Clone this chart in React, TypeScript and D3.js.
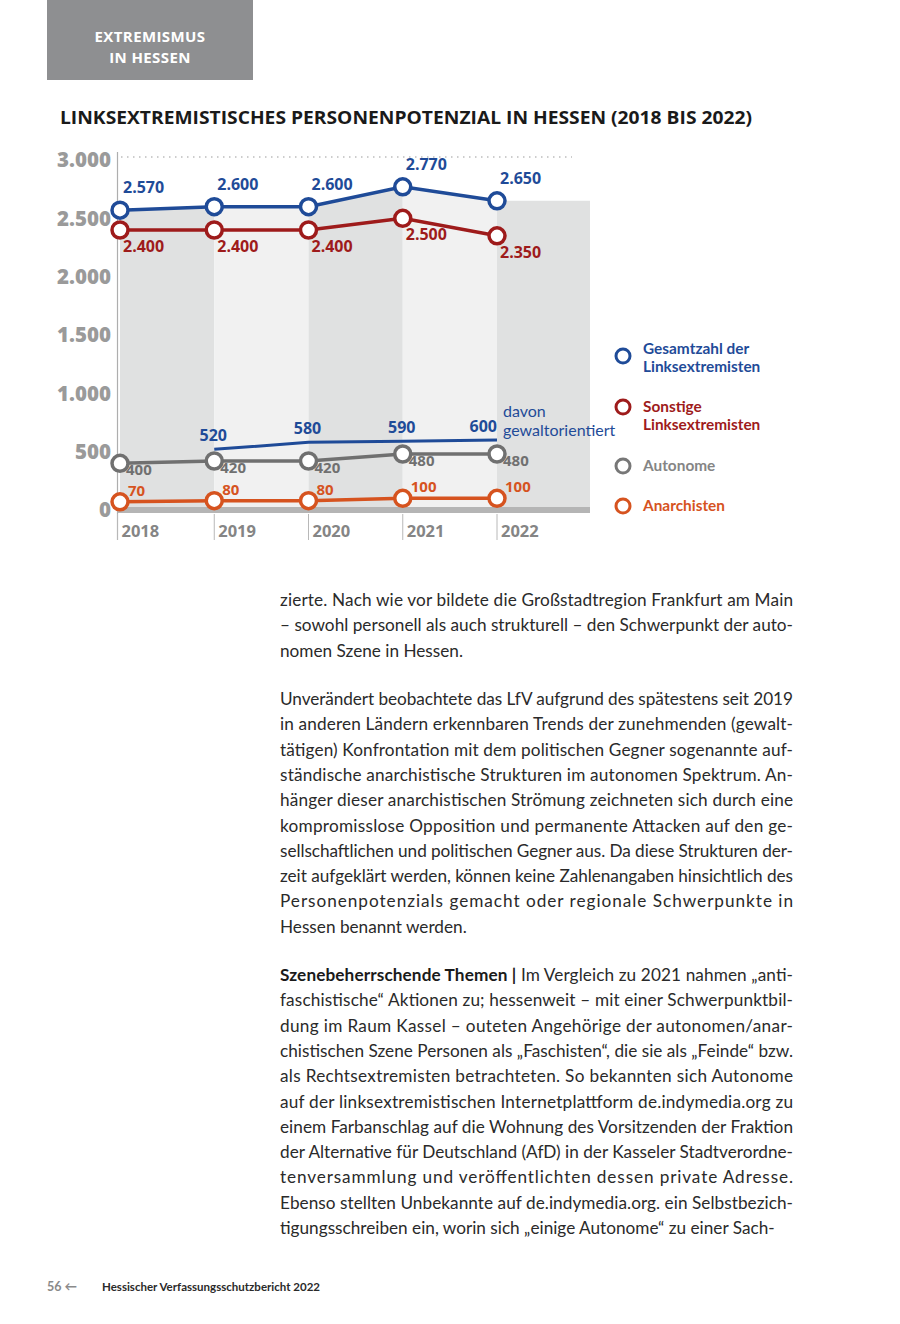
import * as d3 from "d3";

const W = 900;
const H = 1324;

const years = ["2018", "2019", "2020", "2021", "2022"];
const gesamt = [2570, 2600, 2600, 2770, 2650];
const sonstige = [2400, 2400, 2400, 2500, 2350];
const autonome = [400, 420, 420, 480, 480];
const anarchisten = [70, 80, 80, 100, 100];
const gewaltYears = ["2019", "2020", "2021", "2022"];
const gewalt = [520, 580, 590, 600];
const yTicks = [0, 500, 1000, 1500, 2000, 2500, 3000];

const legendItems = [
  { lines: ["Gesamtzahl der", "Linksextremisten"], color: "#1f4b98", text: "#1f4b98" },
  { lines: ["Sonstige", "Linksextremisten"], color: "#9e1b1b", text: "#9e1b1b" },
  { lines: ["Autonome"], color: "#777777", text: "#858585" },
  { lines: ["Anarchisten"], color: "#d6531f", text: "#d6531f" },
];

const para1 = [
  "zierte. Nach wie vor bildete die Großstadtregion Frankfurt am Main",
  "– sowohl personell als auch strukturell – den Schwerpunkt der auto-",
  "nomen Szene in Hessen.",
];
const para2 = [
  "Unverändert beobachtete das LfV aufgrund des spätestens seit 2019",
  "in anderen Ländern erkennbaren Trends der zunehmenden (gewalt-",
  "tätigen) Konfrontation mit dem politischen Gegner sogenannte auf-",
  "ständische anarchistische Strukturen im autonomen Spektrum. An-",
  "hänger dieser anarchistischen Strömung zeichneten sich durch eine",
  "kompromisslose Opposition und permanente Attacken auf den ge-",
  "sellschaftlichen und politischen Gegner aus. Da diese Strukturen der-",
  "zeit aufgeklärt werden, können keine Zahlenangaben hinsichtlich des",
  "Personenpotenzials gemacht oder regionale Schwerpunkte in",
  "Hessen benannt werden.",
];
const para3Lead = "Szenebeherrschende Themen |";
const para3 = [
  " Im Vergleich zu 2021 nahmen „anti-",
  "faschistische“ Aktionen zu; hessenweit – mit einer Schwerpunktbil-",
  "dung im Raum Kassel – outeten Angehörige der autonomen/anar-",
  "chistischen Szene Personen als „Faschisten“, die sie als „Feinde“ bzw.",
  "als Rechtsextremisten betrachteten. So bekannten sich Autonome",
  "auf der linksextremistischen Internetplattform de.indymedia.org zu",
  "einem Farbanschlag auf die Wohnung des Vorsitzenden der Fraktion",
  "der Alternative für Deutschland (AfD) in der Kasseler Stadtverordne-",
  "tenversammlung und veröffentlichten dessen private Adresse.",
  "Ebenso stellten Unbekannte auf de.indymedia.org. ein Selbstbezich-",
  "tigungsschreiben ein, worin sich „einige Autonome“ zu einer Sach-",
];

const fmt = (v: number) => d3.format(",")(v).replace(/,/g, ".");

const x = d3.scalePoint<string>().domain(years).range([120, 497]);
const y = d3.scaleLinear().domain([0, 3000]).range([510, 160]);
const plotRight = 590;

const BOLD = "'Open Sans', 'DejaVu Sans', sans-serif";
const BODY = "Lato, 'Open Sans', sans-serif";

const line = d3
  .line<number>()
  .x((_, i) => x(years[i]) as number)
  .y((d) => y(d));

const gewaltLine = d3
  .line<number>()
  .x((_, i) => x(gewaltYears[i]) as number)
  .y((d) => y(d));

// area under the total line, extended flat to the right edge
const areaPts: [number, number][] = gesamt.map((v, i) => [x(years[i]) as number, y(v)]);
areaPts.push([plotRight, y(gesamt[gesamt.length - 1])]);
const area = d3
  .area<[number, number]>()
  .x((d) => d[0])
  .y0(y(0))
  .y1((d) => d[1]);

type Series = {
  values: number[];
  color: string;
  dx: number;
  dy: number;
  size: number;
};

const series: Series[] = [
  { values: gesamt, color: "#1f4b98", dx: 3, dy: -17, size: 16 },
  { values: sonstige, color: "#9e1b1b", dx: 3, dy: 22, size: 16 },
  { values: autonome, color: "#707070", dx: 6, dy: 12, size: 15 },
  { values: anarchisten, color: "#d6531f", dx: 8, dy: -6, size: 15 },
];

const justify = 513;

function Para({ lines, top, lead }: { lines: string[]; top: number; lead?: string }) {
  return (
    <g fontFamily={BODY} fontSize={17.2} fill="#2a2a2a">
      {lines.map((t, i) => {
        const last = i === lines.length - 1;
        const props = last ? {} : { textLength: justify, lengthAdjust: "spacing" as const };
        return (
          <text key={i} x={280} y={top + i * 25.3} {...props}>
            {i === 0 && lead ? (
              <tspan fontWeight={700} fill="#1a1a1a">
                {lead}
              </tspan>
            ) : null}
            {t}
          </text>
        );
      })}
    </g>
  );
}

export default function App() {
  return (
    <svg
      width={W}
      height={H}
      viewBox={`0 0 ${W} ${H}`}
      style={{ position: "absolute", left: 0, top: 0, background: "#fff" }}
    >
      {/* header tab */}
      <rect x={47} y={0} width={206} height={80} fill="#8e8f91" />
      <g
        fontFamily={BOLD}
        fontWeight={700}
        fontSize={15}
        letterSpacing={0.4}
        fill="#fff"
        textAnchor="middle"
      >
        <text x={150} y={42}>EXTREMISMUS</text>
        <text x={150} y={62.5}>IN HESSEN</text>
      </g>

      <text
        x={60}
        y={124}
        fontFamily={BOLD}
        fontWeight={700}
        fontSize={17.5}
        fill="#1a1a1a"
        textLength={692}
        lengthAdjust="spacingAndGlyphs"
      >
        LINKSEXTREMISTISCHES PERSONENPOTENZIAL IN HESSEN (2018 BIS 2022)
      </text>

      {/* shaded columns under the total line */}
      <defs>
        <clipPath id="underTotal">
          <path d={area(areaPts) ?? ""} />
        </clipPath>
      </defs>
      <g clipPath="url(#underTotal)">
        {years.map((yr, i) => {
          const x0 = i === 0 ? 117 : (x(yr) as number);
          const x1 = i === years.length - 1 ? plotRight : (x(years[i + 1]) as number);
          return (
            <rect
              key={yr}
              x={x0}
              y={150}
              width={x1 - x0}
              height={y(0) - 150}
              fill={i % 2 === 0 ? "#e0e1e1" : "#f1f1f1"}
            />
          );
        })}
      </g>

      {/* top dotted line */}
      <line
        x1={121}
        x2={572}
        y1={157}
        y2={157}
        stroke="#bdbdbd"
        strokeWidth={1.5}
        strokeDasharray="1.5 4.5"
      />

      {/* baseline bar */}
      <rect x={117} y={y(0) - 3} width={plotRight - 117} height={6} fill="#b5b5b5" />

      {/* y axis */}
      <line x1={117.5} x2={117.5} y1={152} y2={540} stroke="#aeaeae" strokeWidth={1.2} />
      <g fontFamily={BOLD} fontWeight={800} fontSize={20.5} fill="#9a9a9a" textAnchor="end">
        {yTicks.map((t) => (
          <text key={t} x={111} y={y(t)} dy="0.36em">
            {fmt(t)}
          </text>
        ))}
      </g>

      {/* x ticks and labels */}
      <g fontFamily={BOLD} fontWeight={700} fontSize={16.5} fill="#858585">
        {years.map((yr, i) => {
          const xt = i === 0 ? 117.5 : (x(yr) as number);
          return (
            <g key={yr}>
              <line x1={xt} x2={xt} y1={y(0) + 4} y2={540} stroke="#b8b8b8" strokeWidth={1} />
              <text x={xt + 4} y={537}>
                {yr}
              </text>
            </g>
          );
        })}
      </g>

      {/* gewaltorientiert line */}
      <path d={gewaltLine(gewalt) ?? ""} fill="none" stroke="#1f4b98" strokeWidth={3} />
      <g fontFamily={BOLD} fontWeight={700} fontSize={16} fill="#1f4b98">
        {gewalt.map((v, i) => {
          const px = x(gewaltYears[i]) as number;
          const last = i === gewalt.length - 1;
          return (
            <text
              key={i}
              x={last ? px : px - 1}
              y={y(v) - 8}
              textAnchor={last ? "end" : "middle"}
            >
              {v}
            </text>
          );
        })}
      </g>
      <g fontFamily={BODY} fontSize={16} fill="#1f4b98">
        <text x={503} y={417}>davon</text>
        <text x={503} y={436}>gewaltorientiert</text>
      </g>

      {/* series lines + markers */}
      {series.map((s, si) => (
        <g key={si}>
          <path d={line(s.values) ?? ""} fill="none" stroke={s.color} strokeWidth={3.5} />
          {s.values.map((v, i) => (
            <circle
              key={i}
              cx={x(years[i]) as number}
              cy={y(v)}
              r={8}
              fill="#fff"
              stroke={s.color}
              strokeWidth={3.5}
            />
          ))}
          <g fontFamily={BOLD} fontWeight={700} fontSize={s.size} fill={s.color}>
            {s.values.map((v, i) => (
              <text key={i} x={(x(years[i]) as number) + s.dx} y={y(v) + s.dy}>
                {fmt(v)}
              </text>
            ))}
          </g>
        </g>
      ))}

      {/* legend */}
      {legendItems.map((item, i) => {
        const cy = [356, 407, 466, 506][i];
        const base = [354, 412, 471, 511][i];
        return (
          <g key={i}>
            <circle cx={623} cy={cy} r={7} fill="#fff" stroke={item.color} strokeWidth={3} />
            <g fontFamily={BODY} fontWeight={700} fontSize={15.4} fill={item.text}>
              {item.lines.map((l, j) => (
                <text key={j} x={643} y={base + j * 18}>
                  {l}
                </text>
              ))}
            </g>
          </g>
        );
      })}

      {/* body text */}
      <Para lines={para1} top={606} />
      <Para lines={para2} top={705} />
      <Para lines={para3} top={981} lead={para3Lead} />

      {/* footer */}
      <text x={47} y={1291} fontFamily={BODY} fontSize={12.5} fill="#8a8a8a" fontWeight={700}>
        56 ←
      </text>
      <text
        x={102}
        y={1291}
        fontFamily={BODY}
        fontSize={12}
        fill="#2a2a2a"
        fontWeight={700}
        textLength={218}
        lengthAdjust="spacingAndGlyphs"
      >
        Hessischer Verfassungsschutzbericht 2022
      </text>
    </svg>
  );
}
